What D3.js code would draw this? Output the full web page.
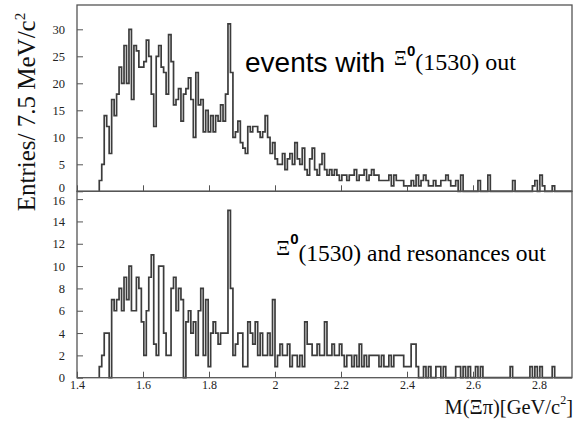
<!DOCTYPE html>
<html>
<head>
<meta charset="utf-8">
<script src="https://cdn.jsdelivr.net/npm/d3@7"></script>
<style>
  html, body { margin: 0; padding: 0; background: #fff; }
  svg { display: block; }
</style>
</head>
<body>
<svg id="chart" width="579" height="423"></svg>
<script>
// ---- data ----
const binWidth = 0.0075;          // GeV (7.5 MeV bins)
const histStart = 1.4675;         // lower edge of first filled bin
const histEnd = 2.9;

// upper panel: events with Xi0(1530) out
const topCounts = [
  2,5,14,12,7,17,14,18,23,20,27,20,30,17,27,26,23,23,24,28,
  25,18,12,25,27,23,22,18,29,24,16,17,19,13,18,19,21,17,10,22,
  16,17,11,15,11,14,11,14,13,16,13,18,31,
  22,10,11,13,9,8,7,12,11,12,12,11,10,11,14,10,7,9,6,5,
  5,7,4,6,7,5,9,6,5,8,4,3,6,8,4,3,5,7,4,3,4,3,4,3,2,
  3,3,2,3,3,4,2,3,3,4,2,3,4,3,3,2,2,2,2,3,1,3,2,2,2,1,
  1,1,2,1,3,1,2,3,2,1,1,2,1,1,2,2,3,2,1,1,2,0,3,0,0,0,0,0,0,2,
  0,0,0,3,0,0,0,0,0,0,0,0,0,2,0,0,0,0,0,0,0,1,2,0,3,1,0,0,0,1,
  0,0,0,0,0,0,0
];

// lower panel: Xi0(1530) and resonances out
const bottomCounts = [
  1,2,4,4,0,7,6,7,8,6,9,7,10,6,6,9,8,5,2,6,
  9,11,3,2,10,10,4,2,2,8,9,6,8,7,0,5,6,4,5,2,
  6,8,2,7,1,4,5,4,3,4,4,4,15,
  8,2,3,4,4,1,1,5,4,3,5,2,4,2,2,4,2,7,1,2,3,2,2,3,1,2,2,
  1,2,1,5,3,3,2,2,3,2,2,5,2,2,3,2,2,3,2,1,2,2,1,2,1,3,1,2,1,2,
  2,2,2,1,2,1,1,2,1,2,2,2,2,1,1,1,3,3,1,0,0,1,0,1,0,0,1,1,0,1,
  0,0,0,0,1,1,0,1,0,1,0,0,1,0,1,0,0,0,0,0,0,0,0,0,0,0,1,0,0,0,
  0,0,0,0,1,0,1,0,1,0,0,0,0,1,0,0,0,0,0,0,0
];

const xTicks = [1.4, 1.6, 1.8, 2.0, 2.2, 2.4, 2.6, 2.8];
const topYTicks = [0, 5, 10, 15, 20, 25, 30];
const bottomYTicks = [0, 2, 4, 6, 8, 10, 12, 14, 16];
const topDomain = [0, 34.5];
const bottomDomain = [0, 16.7];

// ---- layout ----
const svg = d3.select("#chart");
const L = 77, R = 572;
const topP = { y0: 5, y1: 191.3 };
const botP = { y0: 191.3, y1: 377.7 };
const frameColor = "#555";
const serif = "'Liberation Serif','Times New Roman',serif";
const sans = "'Liberation Sans',Arial,sans-serif";

const x = d3.scaleLinear().domain([1.4, 2.9]).range([L, R]);
const yTop = d3.scaleLinear().domain(topDomain).range([topP.y1, topP.y0]);
const yBot = d3.scaleLinear().domain(bottomDomain).range([botP.y1, botP.y0]);

function histPoints(counts) {
  const pts = [[histStart, 0]];
  counts.forEach((c, i) => pts.push([histStart + i * binWidth, c]));
  const last = histStart + counts.length * binWidth;
  pts.push([Math.min(last, histEnd), counts[counts.length - 1]]);
  pts.push([Math.min(last, histEnd), 0]);
  return pts;
}

function drawPanel(counts, y, p, yTicks, showXLabels, zeroShift, topShift) {
  const g = svg.append("g");
  const line = d3.line()
    .x(d => x(d[0]))
    .y(d => y(d[1]))
    .curve(d3.curveStepAfter);
  g.append("path")
    .datum(histPoints(counts))
    .attr("d", line)
    .attr("fill", "none")
    .attr("stroke", "#3c3c3c")
    .attr("stroke-width", 1.7)
    .attr("stroke-linejoin", "miter");

  // y axis (ticks inside)
  const ya = g.append("g")
    .attr("transform", `translate(${L},0)`)
    .call(d3.axisLeft(y).tickValues(yTicks).tickSize(-6).tickPadding(12).tickFormat(d3.format("d")));
  ya.select(".domain").remove();
  ya.selectAll(".tick line").attr("stroke", frameColor);
  ya.selectAll(".tick text")
    .attr("font-family", serif).attr("font-size", 12.5).attr("fill", "#222")
    .attr("dy", d => d === yTicks[0] ? `${0.32 + zeroShift}em` : (d === yTicks[yTicks.length - 1] ? `${0.32 + topShift}em` : "0.32em"));

  // x axis (ticks inside)
  const xa = g.append("g")
    .attr("transform", `translate(0,${p.y1})`)
    .call(d3.axisBottom(x).tickValues(xTicks).tickSize(-6).tickPadding(3)
      .tickFormat(d => showXLabels ? (d === 2 ? "2" : d3.format(".1f")(d)) : ""));
  xa.select(".domain").remove();
  xa.selectAll(".tick line").attr("stroke", frameColor);
  xa.selectAll(".tick text")
    .attr("font-family", serif).attr("font-size", 12).attr("fill", "#222");

  // frame
  g.append("rect")
    .attr("x", L).attr("y", p.y0)
    .attr("width", R - L).attr("height", p.y1 - p.y0)
    .attr("fill", "none").attr("stroke", frameColor).attr("stroke-width", 1.3);
}

drawPanel(topCounts, yTop, topP, topYTicks, false, -0.3, 0);
drawPanel(bottomCounts, yBot, botP, bottomYTicks, true, 0, 0.15);

// y-axis title
const yt = svg.append("text")
  .attr("transform", "translate(35,112) rotate(-90)")
  .attr("text-anchor", "middle")
  .attr("font-family", serif).attr("font-size", 25).attr("fill", "#111");
yt.append("tspan").text("Entries/ 7.5 MeV/c");
yt.append("tspan").attr("font-size", 15).attr("dy", "-0.7em").text("2");

// x-axis title
const xt = svg.append("text")
  .attr("x", 573).attr("y", 414)
  .attr("text-anchor", "end")
  .attr("font-family", serif).attr("font-size", 20.5).attr("fill", "#111");
xt.append("tspan").text("M(Ξπ)[GeV/c");
xt.append("tspan").attr("font-size", 12).attr("dy", "-0.8em").text("2");
xt.append("tspan").attr("dy", "0.46em").text("]");

// upper annotation
svg.append("text")
  .attr("x", 245).attr("y", 72)
  .attr("font-family", sans).attr("font-size", 28).attr("fill", "#000")
  .text("events with");
const a1 = svg.append("text")
  .attr("x", 394).attr("y", 65)
  .attr("font-family", serif).attr("font-size", 24).attr("fill", "#000");
a1.append("tspan").attr("font-size", 20).text("Ξ");
a1.append("tspan").attr("font-size", 15).attr("font-weight", "bold").attr("font-family", sans).attr("dy", "-0.6em").text("0");
a1.append("tspan").attr("dy", "0.6em").text("(1530) out");

// lower annotation
const a2 = svg.append("text")
  .attr("x", 276).attr("y", 255)
  .attr("font-family", serif).attr("font-size", 23.5).attr("fill", "#000");
a2.append("tspan").attr("font-size", 22).text("Ξ");
a2.append("tspan").attr("font-size", 15).attr("font-weight", "bold").attr("font-family", sans).attr("dy", "-0.75em").text("0");
a2.append("tspan").attr("dy", "0.75em").text("(1530) and resonances out");
</script>
</body>
</html>
